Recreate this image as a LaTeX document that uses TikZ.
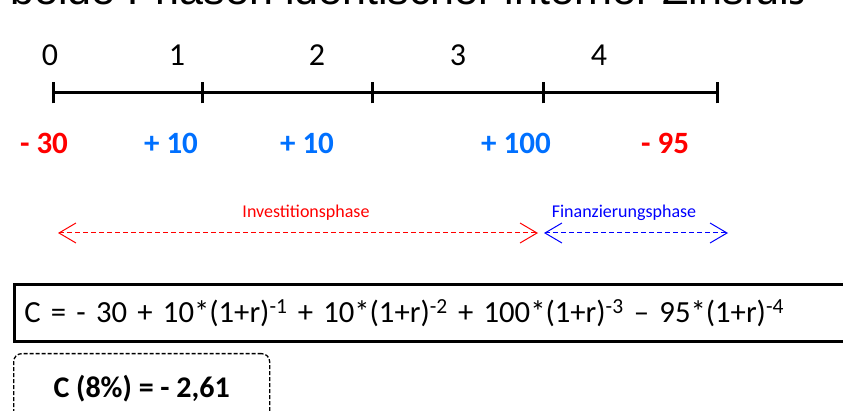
\documentclass[tikz,border=0pt]{standalone}
\usepackage{fontspec}
\setmainfont{Carlito}
\newfontfamily\arialfont{Liberation Sans}
\usetikzlibrary{arrows.meta}
\definecolor{valred}{RGB}{255,0,0}
\definecolor{valblue}{RGB}{0,112,255}
\definecolor{phblue}{RGB}{0,0,255}
\tikzset{
  axislbl/.style={font=\fontsize{32}{38}\selectfont, anchor=base},
  vallbl/.style={font=\fontsize{31}{37}\selectfont\bfseries, anchor=base},
  phaselbl/.style={font=\fontsize{18}{22}\selectfont, anchor=base},
  tickmark/.style={line width=3pt},
  phasearrow/.style={line width=1pt, dash pattern=on 5pt off 3pt, {Straight Barb[length=17pt,width=20pt,line width=1pt]}-{Straight Barb[length=17pt,width=20pt,line width=1pt]}},
}
\begin{document}
\begin{tikzpicture}[x=1pt,y=-1pt]
\useasboundingbox (0,0) rectangle (843,411);
\clip (0,0) rectangle (843,411);
% cut-off title
\node[font=\arialfont\fontsize{43}{50}\selectfont, anchor=base west, inner sep=0] (title) at (10,5) {beide Phasen identischer interner Zinsfuß};
% timeline
\coordinate (t0) at (53,93);
\coordinate (t1) at (202,93);
\coordinate (t2) at (372,93);
\coordinate (t3) at (543,93);
\coordinate (t4) at (717,93);
\draw[line width=3pt] (t0) -- (t4);
\foreach \t in {t0,t1,t2,t3,t4}{
  \draw[tickmark] ([yshift=-10.5pt]\t) -- ([yshift=10.5pt]\t);
}
% axis labels
\node[axislbl] (l0) at (50,66) {0};
\node[axislbl] (l1) at (177,66) {1};
\node[axislbl] (l2) at (317,66) {2};
\node[axislbl] (l3) at (458,66) {3};
\node[axislbl] (l4) at (599,66) {4};
% values
\node[vallbl, text=valred] (v0) at (44,154) {- 30};
\node[vallbl, text=valblue] (v1) at (171,154) {+ 10};
\node[vallbl, text=valblue] (v2) at (307,154) {+ 10};
\node[vallbl, text=valblue] (v3) at (516,154) {+ 100};
\node[vallbl, text=valred] (v4) at (665,154) {- 95};
% phases
\node[phaselbl, text=valred] (inv) at (306,218) {Investitionsphase};
\node[phaselbl, text=phblue] (fin) at (624,218) {Finanzierungsphase};
\coordinate (ia) at (58,233);
\coordinate (ib) at (538,233);
\coordinate (fa) at (544,233);
\coordinate (fb) at (728,233);
\draw[phasearrow, valred] (ia) -- (ib);
\draw[phasearrow, phblue] (fa) -- (fb);
% formula box
\node[draw, line width=2.7pt, anchor=north west, minimum width=880pt, minimum height=57pt,
  text width=860pt, align=left, inner xsep=9pt, inner ysep=0pt,
  font=\fontsize{30.7}{36}\selectfont] (formula) at (13,283)
  {C = - 30 + 10*(1+r)\textsuperscript{-1} + 10*(1+r)\textsuperscript{-2} + 100*(1+r)\textsuperscript{-3} – 95*(1+r)\textsuperscript{-4}};
% result box
\node[draw, line width=1.3pt, dash pattern=on 4pt off 2pt, rounded corners=8pt, anchor=north west,
  minimum width=256pt, minimum height=70pt, font=\fontsize{30}{36}\selectfont\bfseries] (result) at (13,353)
  {C (8\%) = - 2,61};
\end{tikzpicture}
\end{document}
